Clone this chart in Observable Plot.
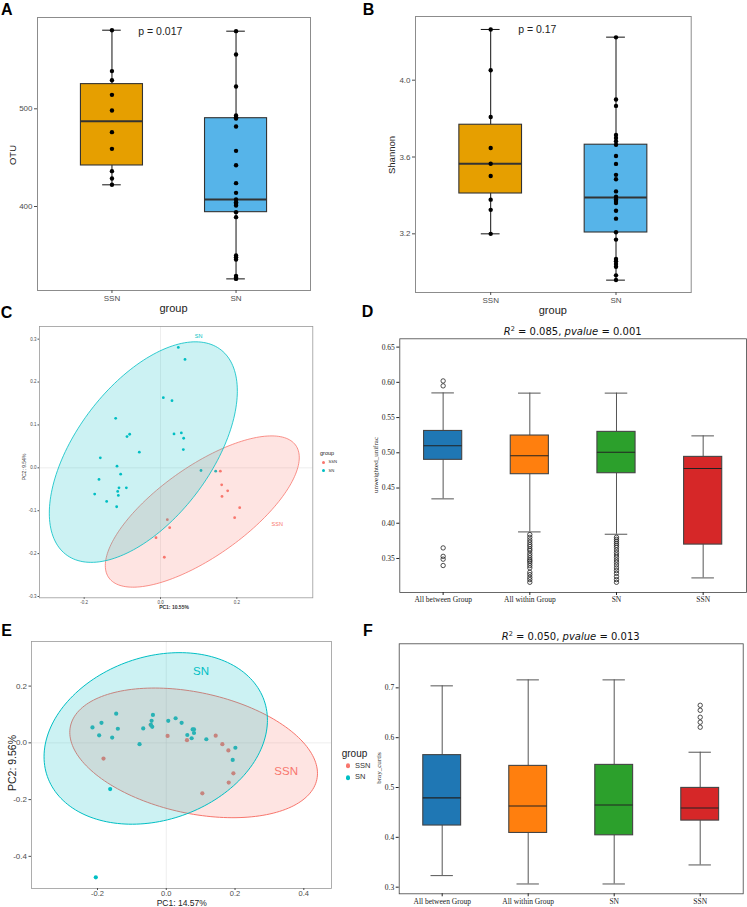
<!DOCTYPE html>
<html>
<head>
<meta charset="utf-8">
<script src="https://cdn.jsdelivr.net/npm/d3@7"></script>
<script src="https://cdn.jsdelivr.net/npm/@observablehq/plot@0.6"></script>
<style>
  body { margin: 0; background: #fff; }
  #fig { position: relative; width: 747px; height: 907px; overflow: hidden; background: #fff; }
</style>
</head>
<body>
<div id="fig"></div>
<script>
// ---------------- DATA ----------------
// Panels A & B (alpha diversity)
const alphaGroups = ["SSN", "SN"];
const alphaFill = ["#E69F00", "#56B4E9"];

const otuSSN = [580.5, 538.6, 529.3, 514.3, 498.3, 476.1, 459.0, 436.2, 428.7, 422.2];
const otuSN = [579.5, 555.6, 522.9, 493.2, 491.5, 490.1, 481.9, 457.0, 442.3, 423.9, 414.0, 407.2,
               404.4, 402.7, 401.0, 394.2, 389.1, 349.8, 348.1, 345.7, 329.0, 327.3, 325.9];
const otuQ1 = [442.0, 394.2];
const otuMedian = [487.4, 407.2];
const otuQ3 = [525.3, 490.4];
const otuLow = [422.2, 325.9];
const otuHigh = [580.5, 579.5];
const otuTicks = [400, 500];

const shannonSSN = [4.264, 4.052, 3.808, 3.647, 3.565, 3.501, 3.378, 3.325, 3.2];
const shannonSN = [4.223, 3.899, 3.866, 3.715, 3.699, 3.682, 3.664, 3.605, 3.564, 3.507, 3.484, 3.421,
                   3.393, 3.379, 3.371, 3.360, 3.320, 3.279, 3.208, 3.170, 3.069, 3.057, 3.043, 3.029, 2.984, 2.960];
const shannonQ1 = [3.41, 3.207];
const shannonMedian = [3.565, 3.389];
const shannonQ3 = [3.768, 3.664];
const shannonLow = [3.2, 2.959];
const shannonHigh = [4.264, 4.224];
const shannonTicks = [3.2, 3.6, 4.0];

// Panels C & E (PCoA)
const pcoaGroups = ["SSN", "SN"];
const pcoaColors = ["#F8766D", "#00BFC4"];

const cSNx = [0.0467, 0.0642, 0.0074, 0.0301, -0.1175, 0.0546, 0.0354, -0.0808, -0.0878, 0.0607, 0.0598, -0.0555,
              -0.1577, -0.114, 0.1061, 0.1446, -0.1044, -0.1612, -0.1088, -0.0895, -0.1122, -0.1105, -0.1725, -0.1411, -0.1149];
const cSNy = [0.2806, 0.2527, 0.1636, 0.1566, 0.1155, 0.0814, 0.0791, 0.0783, 0.0729, 0.069, 0.0426, 0.0364,
              0.0233, 0.0039, -0.0062, -0.0078, -0.0147, -0.0271, -0.0465, -0.0465, -0.055, -0.0643, -0.0612, -0.0783, -0.0907];
const cSSNx = [0.1568, 0.1603, 0.176, 0.1612, 0.2075, 0.1943, 0.0179, 0.024, -0.0118, 0.01];
const cSSNy = [-0.0078, -0.0395, -0.0535, -0.0667, -0.093, -0.1163, -0.1209, -0.1395, -0.1628, -0.2085];
// ellipse: centre and covariance-like matrix (order SSN, SN)
const cEllCx = [0.1095, -0.045];
const cEllCy = [-0.1019, 0.0367];
const cEllXX = [0.0646, 0.0607];
const cEllYY = [0.0311, 0.0661];
const cEllXY = [0.032, 0.0351];
const cLabelX = [0.306, 0.1];
const cLabelY = [-0.1318, 0.3074];
const cXTicks = [-0.2, 0.0, 0.2];
const cYTicks = [-0.3, -0.2, -0.1, 0.0, 0.1, 0.2, 0.3];

const eSNx = [-0.2146, -0.1952, -0.1884, -0.1573, -0.1456, -0.1408, -0.0777, -0.067, -0.0447, -0.0427, -0.0388, -0.0408,
              0.0058, 0.0272, 0.0447, 0.0612, 0.0738, 0.0767, 0.0806, 0.0806, 0.1165, 0.201, 0.1932, -0.1631, -0.2049];
const eSNy = [0.0543, 0.0266, 0.0705, 0.0185, 0.1029, 0.0497, -0.0046, 0.0509, 0.0636, 0.0775, 0.0983, 0.0566,
              0.0775, 0.0867, 0.0705, 0.0277, 0.0162, 0.0474, 0.0474, 0.0347, 0.0127, -0.0173, -0.0601, -0.163, -0.474];
const eSSNx = [-0.0456, 0.0039, 0.0602, 0.1437, 0.1631, 0.1806, -0.1825, 0.1952, 0.1816, 0.1049];
const eSSNy = [0.0636, 0.0243, 0.0093, 0.0254, -0.0046, -0.0266, -0.0555, -0.1075, -0.1399, -0.178];
const eEllCx = [0.0796, -0.0306];
const eEllCy = [-0.0353, 0.0156];
const eEllXX = [0.1297, 0.1055];
const eEllYY = [0.0522, 0.0914];
const eEllXY = [-0.026, 0.021];
const eLabelX = [0.3486, 0.101];
const eLabelY = [-0.1017, 0.2509];
const eXTicks = [-0.2, 0.0, 0.2, 0.4];
const eYTicks = [-0.4, -0.2, 0.0, 0.2];

// Panels D & F (beta distance boxplots)
const betaGroups = ["All between Group", "All within Group", "SN", "SSN"];
const betaFill = ["#1f77b4", "#ff7f0e", "#2ca02c", "#d62728"];

const unifracQ1 = [0.49, 0.4696, 0.471, 0.3697];
const unifracMedian = [0.51, 0.4957, 0.5008, 0.4777];
const unifracQ3 = [0.531, 0.5245, 0.5297, 0.4942];
const unifracLow = [0.4346, 0.3877, 0.3844, 0.3224];
const unifracHigh = [0.585, 0.5847, 0.5847, 0.524];
const unifracOutBetween = [0.602, 0.595, 0.365, 0.353, 0.349, 0.340];
const unifracOutWithin = [0.3839, 0.3801, 0.3763, 0.373, 0.3697, 0.3669, 0.3636, 0.3612, 0.3574, 0.3541, 0.3508,
                          0.3479, 0.346, 0.3432, 0.3399, 0.3366, 0.3304, 0.3271, 0.3233, 0.32, 0.3162];
const unifracOutSN = [0.3801, 0.3772, 0.3744, 0.3715, 0.3687, 0.3659, 0.3621, 0.3583, 0.355, 0.3517, 0.3479,
                      0.3446, 0.3408, 0.3366, 0.3328, 0.329, 0.3243, 0.32, 0.3162];
const unifracOutSSN = [];
const unifracTicks = [0.35, 0.40, 0.45, 0.50, 0.55, 0.60, 0.65];

const brayQ1 = [0.4237, 0.4088, 0.4041, 0.4336];
const brayMedian = [0.4793, 0.463, 0.465, 0.459];
const brayQ3 = [0.565, 0.5434, 0.5454, 0.4992];
const brayLow = [0.3232, 0.3064, 0.3064, 0.3446];
const brayHigh = [0.704, 0.716, 0.716, 0.5708];
const brayOutBetween = [];
const brayOutWithin = [];
const brayOutSN = [];
const brayOutSSN = [0.665, 0.655, 0.641, 0.631, 0.621];
const brayTicks = [0.3, 0.4, 0.5, 0.6, 0.7];

// ---------------- HELPERS ----------------
const SANS = '"Liberation Sans", Arial, Helvetica, sans-serif';
const SERIF = '"Liberation Serif", "Times New Roman", serif';
const DEJAVU = '"DejaVu Sans", sans-serif';
const fig = document.getElementById("fig");

function mount(node, left, top) {
  node.style.position = "absolute";
  node.style.left = left + "px";
  node.style.top = top + "px";
  fig.appendChild(node);
}
function label(html, x, y, o = {}) {
  const size = o.size ?? 10, color = o.color ?? "#000", family = o.family ?? SANS, weight = o.weight ?? "normal";
  const d = document.createElement("div");
  d.innerHTML = html;
  const tx = o.anchor === "start" ? "0" : "-50%";
  d.style.cssText = `position:absolute;left:${x}px;top:${y}px;font-family:${family};font-size:${size}px;font-weight:${weight};color:${color};white-space:nowrap;line-height:1;transform:translate(${tx},-50%)${o.rotate ? " rotate(-90deg)" : ""};`;
  fig.appendChild(d);
}
const fmt1 = d => d.toFixed(1);
const fmt2 = d => d.toFixed(2);

function alphaPanel(ssn, sn, q1, med, q3, lo, hi, domain, ticks, tickFmt, w, h, m) {
  const stats = alphaGroups.map((g, i) => ({g, i: i + 1, q1: q1[i], med: med[i], q3: q3[i], lo: lo[i], hi: hi[i]}));
  const pts = [...ssn.map(v => ({i: 1, v})), ...sn.map(v => ({i: 2, v}))];
  return Plot.plot({
    width: w, height: h,
    marginTop: m[0], marginRight: m[1], marginBottom: m[2], marginLeft: m[3],
    style: {background: "transparent", overflow: "visible", fontFamily: SANS},
    x: {domain: [0.4, 2.6]},
    y: {domain},
    color: {domain: alphaGroups, range: alphaFill},
    marks: [
      Plot.ruleX(stats, {x: "i", y1: "lo", y2: "hi", stroke: "#111", strokeWidth: 1}),
      Plot.ruleY(stats, {y: "hi", x1: d => d.i - 0.075, x2: d => d.i + 0.075, stroke: "#111", strokeWidth: 1}),
      Plot.ruleY(stats, {y: "lo", x1: d => d.i - 0.075, x2: d => d.i + 0.075, stroke: "#111", strokeWidth: 1}),
      Plot.rect(stats, {x1: d => d.i - 0.25, x2: d => d.i + 0.25, y1: "q1", y2: "q3", fill: "g", stroke: "#333", strokeWidth: 1.1}),
      Plot.ruleY(stats, {y: "med", x1: d => d.i - 0.25, x2: d => d.i + 0.25, stroke: "#333", strokeWidth: 2}),
      Plot.dot(pts, {x: "i", y: "v", r: 2.2, fill: "#000", stroke: "none"}),
      Plot.frame({stroke: "#8c8c8c", strokeWidth: 1}),
      Plot.axisY({ticks, tickFormat: tickFmt, tickSize: 3, tickPadding: 2, fontSize: 8, color: "#4d4d4d", label: null}),
      Plot.axisX({ticks: [1, 2], tickFormat: d => alphaGroups[d - 1], tickSize: 3, tickPadding: 2, fontSize: 8, color: "#4d4d4d", label: null})
    ]
  });
}

function ellipse(cx, cy, xx, yy, xy, g) {
  const l11 = Math.sqrt(xx), l21 = xy / l11, l22 = Math.sqrt(yy - l21 * l21);
  return d3.range(180).map(k => {
    const t = 2 * Math.PI * k / 180;
    return {g, x: cx + l11 * Math.cos(t), y: cy + l21 * Math.cos(t) + l22 * Math.sin(t)};
  });
}

function pcoaPanel(o) {
  const pts = [
    ...o.ssnx.map((x, i) => ({g: "SSN", x, y: o.ssny[i]})),
    ...o.snx.map((x, i) => ({g: "SN", x, y: o.sny[i]}))
  ];
  const ells = pcoaGroups.map((g, i) => ellipse(o.ecx[i], o.ecy[i], o.exx[i], o.eyy[i], o.exy[i], g));
  const labs = pcoaGroups.map((g, i) => ({g, x: o.lx[i], y: o.ly[i]}));
  return Plot.plot({
    width: o.w, height: o.h,
    marginTop: o.m[0], marginRight: o.m[1], marginBottom: o.m[2], marginLeft: o.m[3],
    style: {background: "transparent", overflow: "visible", fontFamily: SANS},
    x: {domain: o.xd},
    y: {domain: o.yd},
    color: {domain: pcoaGroups, range: pcoaColors},
    marks: [
      Plot.ruleX([0], {stroke: "#e3e3e3", strokeWidth: 0.6}),
      Plot.ruleY([0], {stroke: "#e3e3e3", strokeWidth: 0.6}),
      Plot.dot(pts, {x: "x", y: "y", fill: "g", r: o.r, stroke: "none"}),
      Plot.line(ells[0], {x: "x", y: "y", fill: "g", fillOpacity: 0.2, stroke: "g", strokeWidth: o.sw, curve: "linear-closed"}),
      Plot.line(ells[1], {x: "x", y: "y", fill: "g", fillOpacity: 0.2, stroke: "g", strokeWidth: o.sw, curve: "linear-closed"}),
      Plot.text(labs, {x: "x", y: "y", text: "g", fill: "g", fontSize: o.labSize}),
      Plot.frame({stroke: "#9a9a9a", strokeWidth: 0.8}),
      Plot.axisY({ticks: o.yt, tickFormat: fmt1, tickSize: o.ts, tickPadding: o.tp, fontSize: o.fs, color: "#4d4d4d", label: null}),
      Plot.axisX({ticks: o.xt, tickFormat: fmt1, tickSize: o.tsx ?? o.ts, tickPadding: o.tpx ?? o.tp, fontSize: o.fsx ?? o.fs, color: "#4d4d4d", label: null})
    ]
  });
}

function betaPanel(o) {
  const stats = betaGroups.map((g, i) => ({g, i: i + 1, q1: o.q1[i], med: o.med[i], q3: o.q3[i], lo: o.lo[i], hi: o.hi[i]}));
  const outs = o.outs.flatMap((arr, i) => arr.map(v => ({i: i + 1, v})));
  const hw = 0.22, cw = 0.13;
  return Plot.plot({
    width: o.w, height: o.h,
    marginTop: o.m[0], marginRight: o.m[1], marginBottom: o.m[2], marginLeft: o.m[3],
    style: {background: "transparent", overflow: "visible", fontFamily: SERIF},
    x: {domain: [0.5, 4.5]},
    y: {domain: o.yd},
    color: {domain: betaGroups, range: betaFill},
    marks: [
      Plot.ruleX(stats, {x: "i", y1: "lo", y2: "q1", stroke: "#555", strokeWidth: 1}),
      Plot.ruleX(stats, {x: "i", y1: "q3", y2: "hi", stroke: "#555", strokeWidth: 1}),
      Plot.ruleY(stats, {y: "hi", x1: d => d.i - cw, x2: d => d.i + cw, stroke: "#555", strokeWidth: 1}),
      Plot.ruleY(stats, {y: "lo", x1: d => d.i - cw, x2: d => d.i + cw, stroke: "#555", strokeWidth: 1}),
      Plot.rect(stats, {x1: d => d.i - hw, x2: d => d.i + hw, y1: "q1", y2: "q3", fill: "g", stroke: "#444", strokeWidth: 1.1}),
      Plot.ruleY(stats, {y: "med", x1: d => d.i - hw, x2: d => d.i + hw, stroke: "#222", strokeWidth: 1.1}),
      Plot.dot(outs, {x: "i", y: "v", r: 2.2, fill: "none", stroke: "#222", strokeWidth: 0.8}),
      Plot.frame({stroke: "#444", strokeWidth: 0.8}),
      Plot.axisY({ticks: o.yt, tickFormat: o.fmt, tickSize: 3, tickPadding: 2, fontSize: 7.5, fontFamily: SERIF, color: "#222", label: null}),
      Plot.axisX({ticks: [1, 2, 3, 4], tickFormat: d => betaGroups[d - 1], tickSize: 3, tickPadding: o.xtp, fontSize: 7.5, fontFamily: SERIF, color: "#222", label: null})
    ]
  });
}

// ---------------- PANEL A ----------------
mount(alphaPanel(otuSSN, otuSN, otuQ1, otuMedian, otuQ3, otuLow, otuHigh, [314.0, 593.5], otuTicks, d => String(d),
  370, 300, [17, 60, 10, 37]), 0, 0);
label("p = 0.017", 160.3, 30.7, {size: 10.5, color: "#222"});
label("OTU", 13.3, 155, {size: 9.5, color: "#222", rotate: true});
label("group", 173.5, 308.3, {size: 11, color: "#222"});

// ---------------- PANEL B ----------------
mount(alphaPanel(shannonSSN, shannonSN, shannonQ1, shannonMedian, shannonQ3, shannonLow, shannonHigh, [2.8946, 4.3315], shannonTicks, fmt1,
  377, 300, [16, 56.3, 8, 45]), 370, 0);
label("p = 0.17", 537.3, 29.3, {size: 10.5, color: "#222"});
label("Shannon", 392.3, 155, {size: 9.5, color: "#222", rotate: true});
label("group", 552.8, 310, {size: 11, color: "#222"});

// ---------------- PANEL C ----------------
mount(pcoaPanel({
  snx: cSNx, sny: cSNy, ssnx: cSSNx, ssny: cSSNy,
  ecx: cEllCx, ecy: cEllCy, exx: cEllXX, eyy: cEllYY, exy: cEllXY,
  lx: cLabelX, ly: cLabelY, xd: [-0.3171, 0.3991], yd: [-0.303, 0.3295], xt: cXTicks, yt: cYTicks,
  w: 370, h: 300, m: [26, 57.7, 2.7, 39], r: 1.4, sw: 0.8, labSize: 5.5, ts: 1.5, tp: 1.5, fs: 4.5
}), 0, 300);
label("PC1: 10.55%", 174, 607.3, {size: 5, color: "#333", weight: "bold"});
label("PC2: 9.54%", 24, 466.7, {size: 5, color: "#333", rotate: true});
label("group", 320, 454, {size: 5.5, color: "#222", anchor: "start"});
label('<span style="display:inline-block;width:3px;height:3px;border-radius:50%;background:#F8766D;margin-right:4px;vertical-align:middle"></span>SSN', 321.5, 462.3, {size: 4.2, color: "#333", anchor: "start"});
label('<span style="display:inline-block;width:3px;height:3px;border-radius:50%;background:#00BFC4;margin-right:4px;vertical-align:middle"></span>SN', 321.5, 470.7, {size: 4.2, color: "#333", anchor: "start"});

// ---------------- PANEL D ----------------
mount(betaPanel({
  q1: unifracQ1, med: unifracMedian, q3: unifracQ3, lo: unifracLow, hi: unifracHigh,
  outs: [unifracOutBetween, unifracOutWithin, unifracOutSN, unifracOutSSN],
  yd: [0.3017, 0.6618], yt: unifracTicks, fmt: fmt2, xtp: 1.5,
  w: 377, h: 300, m: [38.3, 1, 8, 29.3]
}), 370, 300);
label('<i>R</i><span style="font-size:0.65em;position:relative;top:-0.5em">2</span> = 0.085, <i>pvalue</i> = 0.001', 572.7, 331.7, {size: 10, family: DEJAVU, color: "#111"});
label("unweighted_unifrac", 376, 465, {size: 7, family: SERIF, color: "#222", rotate: true});

// ---------------- PANEL E ----------------
mount(pcoaPanel({
  snx: eSNx, sny: eSNy, ssnx: eSSNx, ssny: eSSNy,
  ecx: eEllCx, ecy: eEllCy, exx: eEllXX, eyy: eEllYY, exy: eEllXY,
  lx: eLabelX, ly: eLabelY, xd: [-0.3919, 0.4805], yd: [-0.5133, 0.3572], xt: eXTicks, yt: eYTicks,
  w: 370, h: 307, m: [41, 39, 19, 31], r: 2.1, sw: 1, labSize: 11.5, ts: 2.5, tsx: 2, tp: 2, tpx: 0, fs: 8, fsx: 7.5
}), 0, 600);
label("PC1: 14.57%", 181.7, 903, {size: 8.5, color: "#222"});
label("PC2: 9.56%", 11.7, 763, {size: 10.5, color: "#222", rotate: true});
label("group", 341.7, 754, {size: 10, color: "#222", anchor: "start"});
label('<span style="display:inline-block;width:4.5px;height:4.5px;border-radius:50%;background:#F8766D;margin-right:5px;vertical-align:middle"></span>SSN', 345.5, 765.7, {size: 7.5, color: "#333", anchor: "start"});
label('<span style="display:inline-block;width:4.5px;height:4.5px;border-radius:50%;background:#00BFC4;margin-right:5px;vertical-align:middle"></span>SN', 345.5, 777.3, {size: 7.5, color: "#333", anchor: "start"});

// ---------------- PANEL F ----------------
mount(betaPanel({
  q1: brayQ1, med: brayMedian, q3: brayQ3, lo: brayLow, hi: brayHigh,
  outs: [brayOutBetween, brayOutWithin, brayOutSN, brayOutSSN],
  yd: [0.2867, 0.7884], yt: brayTicks, fmt: fmt1, xtp: 2,
  w: 377, h: 307, m: [43.3, 4.3, 13.7, 28.7]
}), 370, 600);
label('<i>R</i><span style="font-size:0.65em;position:relative;top:-0.5em">2</span> = 0.050, <i>pvalue</i> = 0.013', 570.7, 636.7, {size: 10, family: DEJAVU, color: "#111"});
label("bray_curtis", 379, 768, {size: 7, family: SERIF, color: "#222", rotate: true});

// ---------------- PANEL LETTERS ----------------
label("A", 6.7, 9.5, {size: 16, weight: "bold", family: SANS});
label("B", 368.5, 9.5, {size: 16, weight: "bold", family: SANS});
label("C", 6.5, 313, {size: 16, weight: "bold", family: SANS});
label("D", 367.5, 312, {size: 16, weight: "bold", family: SANS});
label("E", 6.5, 631, {size: 16, weight: "bold", family: SANS});
label("F", 368, 631, {size: 16, weight: "bold", family: SANS});
</script>
</body>
</html>
